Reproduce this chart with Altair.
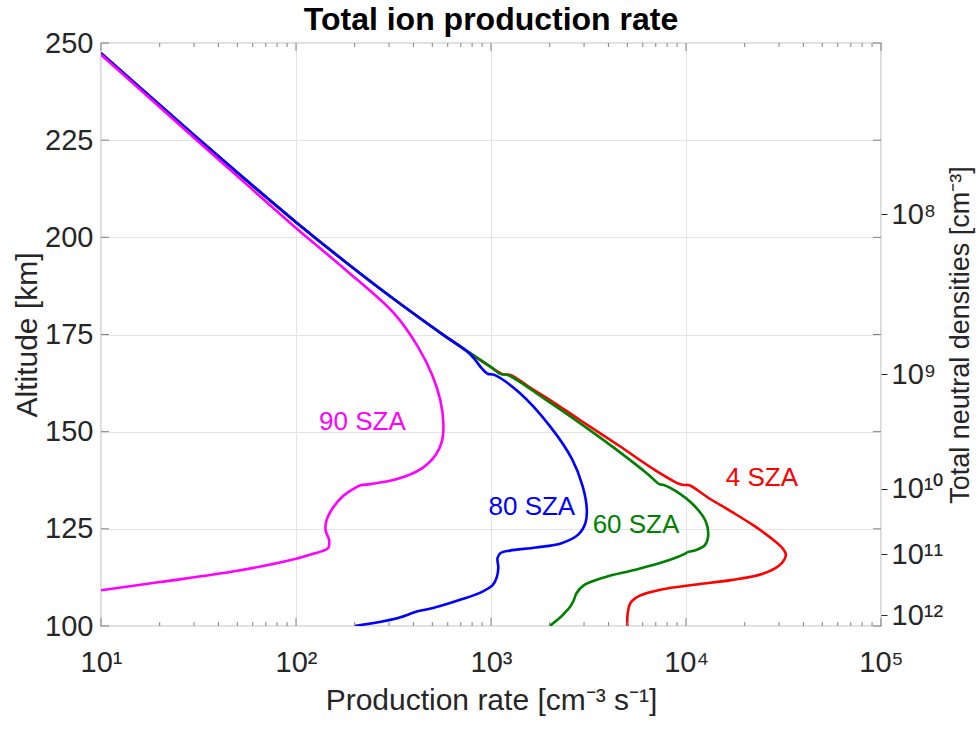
import altair as alt
import pandas as pd

# ---------------- data ----------------
# shared upper part of the profiles (production rate, altitude)
common_x = [10, 17.8, 31.6, 56.2, 100, 178, 316, 562, 1000]
common_alt = [247.4, 236.3, 225.3, 214.5, 203.9, 193.8, 184.2, 175.1, 166.6]

red_x = [1150, 1260, 1600, 2000, 2857, 4500, 7000, 9300, 9700, 10400, 13000, 17000, 22000,
         27000, 31000, 32500, 31000, 25000, 17000, 11000, 7500, 5800, 5200, 5050, 5000, 5000]
red_alt = [164.8, 164.6, 161.2, 158.2, 153, 146.5, 140, 136.5, 136.3, 136.2, 133, 129.5, 126,
           122.8, 120.2, 118.5, 116.2, 113.5, 111.8, 110.6, 109.4, 107.8, 106, 104, 102, 100]

green_x = [1120, 1220, 1900, 2857, 4500, 6400, 7300, 7700, 9000, 11000, 12600, 13000, 12500,
           11200, 10200, 9800, 8000, 5500, 3800, 3000, 2750, 2650, 2550, 2450, 2300, 2000]
green_alt = [164.8, 164.6, 158.3, 152.2, 145, 139, 136.5, 136.3, 134.5, 131, 127, 123.5, 120.8,
             119.5, 119, 118.5, 116.8, 114.5, 112.5, 110.5, 108.5, 106.5, 105, 104, 102.5, 100]

blue_x = [780, 900, 960, 1040, 1400, 2000, 2600, 2950, 3100, 3050, 2800, 2300, 1700, 1250,
          1120, 1080, 1090, 1070, 1020, 900, 700, 520, 460, 420, 330, 200]
blue_alt = [170, 166.2, 164.9, 164.6, 160, 151.5, 143, 136, 130, 126.5, 123.5, 121.3, 120.2,
            119.4, 118.8, 117.5, 115, 112.5, 110.5, 108.8, 106.8, 104.8, 104.2, 103.8, 102, 100]

magenta_x = [10, 17.8, 31.6, 56.2, 100, 178, 316, 420, 500, 550, 570, 560, 520, 440, 330, 240,
             215, 200, 175, 155, 143, 142, 148, 146, 135, 125, 100, 50, 20, 10]
magenta_alt = [247.0, 235.8, 224.6, 213.5, 202.4, 191.8, 180.6, 172, 164.5, 158, 152, 147.5,
               144, 140.5, 137.8, 136.5, 136.2, 135.5, 133.5, 130.5, 127, 124.5, 122, 120,
               119.2, 118.7, 117.3, 114.2, 111.3, 109.2]

series_names = ["4 SZA", "60 SZA", "80 SZA", "90 SZA"]
series_colors = ["#ff0000", "#008000", "#0000ff", "#ff00ff"]

label_x = [24500, 5540, 1620, 219]
label_alt = [138, 126, 130.6, 152.5]

x_ticks = [10, 100, 1000, 10000, 100000]
x_tick_labels = ["10¹", "10²", "10³", "10⁴", "10⁵"]
y_ticks = [100, 125, 150, 175, 200, 225, 250]

dens_alt = [206, 164.8, 135.3, 118.5, 102.8]
dens_labels = ["10⁸", "10⁹", "10¹⁰", "10¹¹", "10¹²"]

# ---------------- tables ----------------
rows = []
def add(name, xs, ys):
    for i, (xv, yv) in enumerate(zip(xs, ys)):
        rows.append({"series": name, "x": xv, "alt": yv, "order": i})

add("4 SZA", common_x + red_x, common_alt + red_alt)
add("60 SZA", common_x + green_x, common_alt + green_alt)
add("80 SZA", common_x[:-1] + blue_x, common_alt[:-1] + blue_alt)
add("90 SZA", magenta_x, magenta_alt)
df = pd.DataFrame(rows)

labels_df = pd.DataFrame({"series": series_names, "x": label_x, "alt": label_alt})

minor = []
for d in [10, 100, 1000, 10000]:
    for k in range(2, 10):
        minor.append(d * k)
minor_df = pd.DataFrame({"x": minor})
major_df = pd.DataFrame({"x": x_ticks})
ytick_df = pd.DataFrame({"alt": y_ticks})
dens_df = pd.DataFrame({"alt": dens_alt, "label": dens_labels})

W, H = 780, 583
FONT = "Liberation Sans"
TXT = "#262626"
GRID = "#e4e4e4"
TICK = "#808080"

xscale = alt.Scale(type="log", domain=[10, 100000], nice=False)
yscale = alt.Scale(domain=[100, 250], nice=False, zero=False)

xlab_expr = " : ".join(
    f"datum.value == {v} ? '{l}'" for v, l in zip(x_ticks, x_tick_labels)
) + " : ''"

x_axis = alt.Axis(values=x_ticks, labelExpr=xlab_expr, grid=True, gridColor=GRID,
                  tickSize=0, domain=False, labelFontSize=29, labelFont=FONT,
                  labelColor=TXT, labelPadding=22, labelFlush=False, labelOverlap=False,
                  title="Production rate [cm⁻³ s⁻¹]",
                  titleFontSize=30, titleFont=FONT, titleColor=TXT, titleFontWeight="normal",
                  titlePadding=8)
y_axis = alt.Axis(values=y_ticks, grid=True, gridColor=GRID, tickSize=0, domain=False,
                  labelFontSize=29, labelFont=FONT, labelColor=TXT, labelPadding=8,
                  labelFlush=False, labelOverlap=False,
                  title="Altitude [km]", titleFontSize=30, titleFont=FONT, titleColor=TXT,
                  titleFontWeight="normal", titlePadding=2)

lines = alt.Chart(df).mark_line(strokeWidth=2.6, clip=True, interpolate="catmull-rom").encode(
    x=alt.X("x:Q", scale=xscale, axis=x_axis),
    y=alt.Y("alt:Q", scale=yscale, axis=y_axis),
    color=alt.Color("series:N", scale=alt.Scale(domain=series_names, range=series_colors),
                    legend=None),
    detail="series:N",
    order="order:Q",
)

texts = alt.Chart(labels_df).mark_text(fontSize=26, font=FONT, align="center",
                                       baseline="middle").encode(
    x=alt.X("x:Q", scale=xscale),
    y=alt.Y("alt:Q", scale=yscale),
    color=alt.Color("series:N", scale=alt.Scale(domain=series_names, range=series_colors),
                    legend=None),
    text="series:N",
)

# inward ticks (MATLAB style box)
minor_bottom = alt.Chart(minor_df).mark_rule(color=TICK, strokeWidth=1).encode(
    x=alt.X("x:Q", scale=xscale), y=alt.value(H), y2=alt.value(H - 4))
minor_top = alt.Chart(minor_df).mark_rule(color=TICK, strokeWidth=1).encode(
    x=alt.X("x:Q", scale=xscale), y=alt.value(0), y2=alt.value(4))
major_bottom = alt.Chart(major_df).mark_rule(color=TICK, strokeWidth=1).encode(
    x=alt.X("x:Q", scale=xscale), y=alt.value(H), y2=alt.value(H - 8))
major_top = alt.Chart(major_df).mark_rule(color=TICK, strokeWidth=1).encode(
    x=alt.X("x:Q", scale=xscale), y=alt.value(0), y2=alt.value(8))
ytick_left = alt.Chart(ytick_df).mark_rule(color=TICK, strokeWidth=1).encode(
    y=alt.Y("alt:Q", scale=yscale), x=alt.value(0), x2=alt.value(8))
ytick_right = alt.Chart(ytick_df).mark_rule(color=TICK, strokeWidth=1).encode(
    y=alt.Y("alt:Q", scale=yscale), x=alt.value(W), x2=alt.value(W - 8))

dens_expr = " : ".join(
    f"abs(datum.value - {v}) < 0.01 ? '{l}'" for v, l in zip(dens_alt, dens_labels)
) + " : ''"

right = alt.Chart(dens_df).mark_point(opacity=0).encode(
    y=alt.Y("alt:Q", scale=alt.Scale(domain=[100, 250], nice=False, zero=False),
            axis=alt.Axis(orient="right", values=dens_alt, labelExpr=dens_expr, grid=False,
                          tickSize=6, tickColor=TXT, domain=False, labelFontSize=29,
                          labelFont=FONT, labelColor=TXT, labelPadding=4,
                          labelFlush=False, labelOverlap=False,
                          title="Total neutral densities [cm⁻³]", titleFontSize=27,
                          titleFont=FONT, titleColor=TXT, titleFontWeight="normal",
                          titleAngle=270, titleX=79, titleY=H / 2, titleBaseline="middle")),
)

left_layer = alt.layer(lines, texts, minor_bottom, minor_top, major_bottom, major_top,
                       ytick_left, ytick_right)

chart = alt.layer(left_layer, right).resolve_scale(y="independent").properties(
    width=W, height=H,
    title=alt.Title("Total ion production rate", fontSize=32, font=FONT, fontWeight="bold",
                    color="#000000", offset=-8, frame="group"),
    padding={"left": 101, "top": 43, "right": 99, "bottom": 105},
    autosize=alt.AutoSizeParams(type="none"),
    background="white",
).configure_view(stroke=TICK, strokeWidth=1.2)

chart.save("out.html", embed_options={"renderer": "svg", "actions": False})
